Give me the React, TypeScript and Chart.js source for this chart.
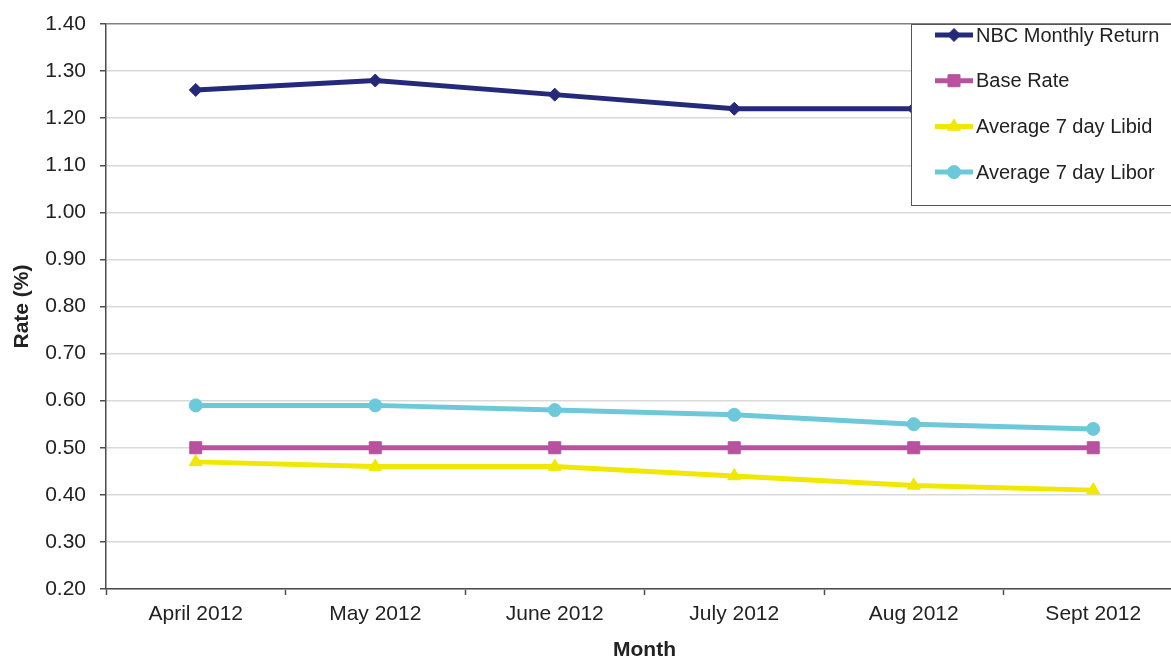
import React, { useEffect, useRef } from 'react';
import { Chart, registerables } from 'chart.js';
import { drawPoint } from 'chart.js/helpers';

Chart.register(...registerables);

// Monthly rates (%), April–September 2012
const months = ['April 2012', 'May 2012', 'June 2012', 'July 2012', 'Aug 2012', 'Sept 2012'];
const nbcMonthlyReturn = [1.26, 1.28, 1.25, 1.22, 1.22, 1.22];
const baseRate = [0.5, 0.5, 0.5, 0.5, 0.5, 0.5];
const libid7Day = [0.47, 0.46, 0.46, 0.44, 0.42, 0.41];
const libor7Day = [0.59, 0.59, 0.58, 0.57, 0.55, 0.54];

const yMin = 0.2;
const yMax = 1.4;
const yStep = 0.1;

const FONT = '"Liberation Sans", Arial, Helvetica, sans-serif';
const TEXT = '#222222';

// Boxed legend drawn over the top-right corner of the plot area
const boxLegend = {
  id: 'boxLegend',
  afterDraw(chart: any) {
    const { ctx, chartArea } = chart;
    const left = chartArea.right - 272;
    const top = chartArea.top;
    const w = 320;
    const h = 181;
    ctx.save();
    ctx.fillStyle = '#ffffff';
    ctx.fillRect(left, top, w, h);
    ctx.strokeStyle = '#555555';
    ctx.lineWidth = 1;
    ctx.strokeRect(left + 0.5, top + 0.5, w, h);
    chart.data.datasets.forEach((ds: any, i: number) => {
      const y = top + 11 + i * 45.7;
      const x0 = left + 24;
      const x1 = left + 62;
      ctx.strokeStyle = ds.borderColor;
      ctx.lineWidth = 5;
      ctx.lineCap = 'butt';
      ctx.beginPath();
      ctx.moveTo(x0, y);
      ctx.lineTo(x1, y);
      ctx.stroke();
      ctx.fillStyle = ds.pointBackgroundColor;
      ctx.strokeStyle = ds.pointBorderColor;
      ctx.lineWidth = 1;
      drawPoint(ctx, { pointStyle: ds.pointStyle, radius: ds.pointRadius, rotation: 0, borderWidth: 1 } as any, (x0 + x1) / 2, y);
      ctx.fillStyle = TEXT;
      ctx.font = `20px ${FONT}`;
      ctx.textAlign = 'left';
      ctx.textBaseline = 'middle';
      ctx.fillText(ds.label, left + 65, y + 1);
    });
    ctx.restore();
  },
};

function series(label: string, data: number[], color: string, pointStyle: string, radius: number) {
  return {
    label,
    data,
    borderColor: color,
    backgroundColor: color,
    borderWidth: 5,
    pointStyle,
    pointRadius: radius,
    pointHoverRadius: radius,
    pointBackgroundColor: color,
    pointBorderColor: color,
    pointBorderWidth: 1,
    tension: 0,
    fill: false,
  };
}

export default function App() {
  const canvasRef = useRef<HTMLCanvasElement | null>(null);

  useEffect(() => {
    const canvas = canvasRef.current;
    if (!canvas) return;
    const chart = new Chart(canvas, {
      type: 'line',
      data: {
        labels: months,
        datasets: [
          series('NBC Monthly Return', nbcMonthlyReturn, '#25297a', 'rectRot', 6.5),
          series('Base Rate', baseRate, '#b8529e', 'rect', 8.5),
          series('Average 7 day Libid', libid7Day, '#f0e800', 'triangle', 7.5),
          series('Average 7 day Libor', libor7Day, '#6cc9d9', 'circle', 6.5),
        ] as any,
      },
      options: {
        responsive: false,
        animation: false,
        devicePixelRatio: 1,
        layout: { padding: { left: 0, top: 24, right: 17, bottom: 0 } },
        plugins: {
          legend: { display: false },
          tooltip: { enabled: false },
        },
        scales: {
          x: {
            type: 'category',
            offset: true,
            afterFit(scale: any) {
              scale.height = 70;
            },
            grid: {
              offset: true,
              drawOnChartArea: false,
              drawTicks: true,
              tickLength: 6,
              tickColor: '#4d4d4d',
              tickWidth: 1.5,
            },
            border: { display: true, color: '#4d4d4d', width: 1.5 },
            ticks: {
              color: TEXT,
              font: { family: FONT, size: 21 },
              padding: 7,
              maxRotation: 0,
              autoSkip: false,
            },
            title: {
              display: true,
              text: 'Month',
              color: TEXT,
              font: { family: FONT, size: 21, weight: 'bold', lineHeight: 1 },
              padding: { top: 0, bottom: -1.5 },
            },
          },
          y: {
            min: yMin,
            max: yMax,
            afterFit(scale: any) {
              scale.width = 106;
            },
            grid: {
              color: (c: any) => (c.tick && Math.abs(c.tick.value - yMax) < 1e-6 ? '#808080' : '#d9d9d9'),
              lineWidth: 1.5,
              drawTicks: true,
              tickLength: 6,
              tickColor: '#4d4d4d',
              tickWidth: 1.5,
            },
            border: { display: true, color: '#4d4d4d', width: 1.5 },
            ticks: {
              stepSize: yStep,
              color: TEXT,
              font: { family: FONT, size: 21, lineHeight: 0.9 },
              padding: 14,
              callback: (v: any) => Number(v).toFixed(2),
            },
            title: {
              display: true,
              text: 'Rate (%)',
              color: TEXT,
              font: { family: FONT, size: 21, weight: 'bold', lineHeight: 1.2 },
              padding: { top: 10, bottom: 0 },
            },
          },
        },
      },
      plugins: [boxLegend],
    });
    return () => chart.destroy();
  }, []);

  return (
    <div
      style={{
        position: 'absolute',
        left: 0,
        top: 0,
        width: 1171,
        height: 659,
        overflow: 'hidden',
        background: '#ffffff',
      }}
    >
      <canvas ref={canvasRef} width={1200} height={659} style={{ display: 'block' }} />
    </div>
  );
}
